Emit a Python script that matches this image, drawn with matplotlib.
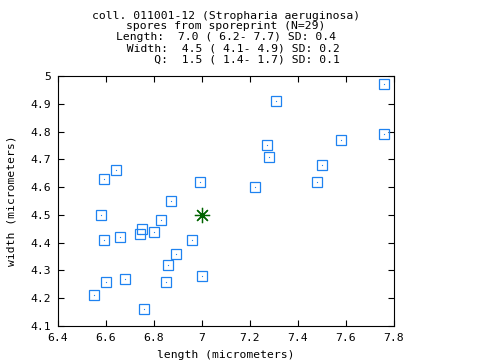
import matplotlib
matplotlib.use("Agg")
import matplotlib.pyplot as plt

# spore measurements (micrometers)
length = [6.59, 6.64, 6.99, 7.22, 6.87, 6.58, 6.83, 6.75, 6.74, 6.80,
          6.66, 6.59, 6.96, 6.89, 6.86, 7.00, 6.68, 6.60, 6.85, 6.55,
          6.76, 7.76, 7.31, 7.27, 7.28, 7.58, 7.76, 7.50, 7.48]
width = [4.63, 4.66, 4.62, 4.60, 4.55, 4.50, 4.48, 4.45, 4.43, 4.44,
         4.42, 4.41, 4.41, 4.36, 4.32, 4.28, 4.27, 4.26, 4.26, 4.21,
         4.16, 4.97, 4.91, 4.75, 4.71, 4.77, 4.79, 4.68, 4.62]
mean_length = 7.0
mean_width = 4.5

title_lines = [
    "coll. 011001-12 (Stropharia aeruginosa)",
    "spores from sporeprint (N=29)",
    "Length:  7.0 ( 6.2- 7.7) SD: 0.4",
    "  Width:  4.5 ( 4.1- 4.9) SD: 0.2",
    "      Q:  1.5 ( 1.4- 1.7) SD: 0.1",
]
xticks = [6.4, 6.6, 6.8, 7.0, 7.2, 7.4, 7.6, 7.8]
xticklabels = ["6.4", "6.6", "6.8", "7", "7.2", "7.4", "7.6", "7.8"]
yticks = [4.1, 4.2, 4.3, 4.4, 4.5, 4.6, 4.7, 4.8, 4.9, 5.0]
yticklabels = ["4.1", "4.2", "4.3", "4.4", "4.5", "4.6", "4.7", "4.8", "4.9", "5"]

plt.rcParams['font.family'] = ['DejaVu Sans Mono']
fs = 8.2
plt.rcParams['font.size'] = fs

fig = plt.figure(figsize=(4.8, 3.6), dpi=100)
ax = fig.add_axes([58/480, 1 - 326/360, (394 - 58)/480, (326 - 76)/360])

blue = '#1e82f0'
ax.plot(length, width, linestyle='none', marker='s', markersize=7.2,
        markerfacecolor='none', markeredgecolor=blue, markeredgewidth=0.9)
ax.plot(length, width, linestyle='none', marker='s', markersize=0.8,
        markerfacecolor=blue, markeredgecolor=blue, markeredgewidth=0)
ax.plot([mean_length], [mean_width], linestyle='none', marker=(8, 2, 0),
        markersize=11, markeredgecolor='#006400', markeredgewidth=0.9)
ax.plot([mean_length], [mean_width], linestyle='none', marker='o',
        markersize=2.5, color='#006400')

ax.set_xlim(6.4, 7.8)
ax.set_ylim(4.1, 5.0)
ax.set_xticks(xticks)
ax.set_xticklabels(xticklabels)
ax.set_yticks(yticks)
ax.set_yticklabels(yticklabels)
ax.tick_params(direction='in', length=4.5, width=0.8, top=True, right=True,
               pad=5, labelsize=fs)
for s in ax.spines.values():
    s.set_linewidth(0.8)

ax.set_xlabel("length (micrometers)", labelpad=5)
ax.set_ylabel("width (micrometers)", labelpad=10)

ys = [15.7, 26.0, 37.3, 48.7, 60.0]
for line, y in zip(title_lines, ys):
    fig.text(226/480, 1 - y/360, line, ha='center', va='center', fontsize=fs)

fig.savefig("out.png", dpi=100)
